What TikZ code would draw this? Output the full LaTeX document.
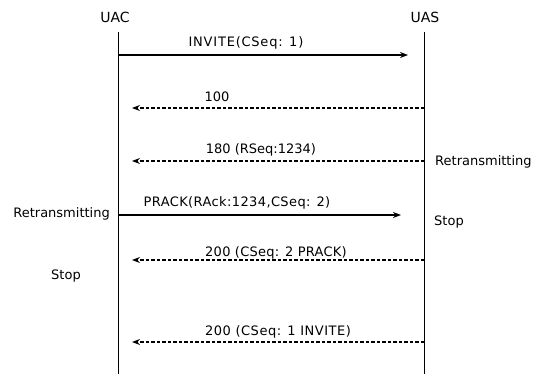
\documentclass[tikz,border=0pt]{standalone}
\usepackage{fontspec}
\setmainfont{DejaVu Sans}
\usetikzlibrary{arrows.meta}
\begin{document}
\begin{tikzpicture}[x=1pt,y=-1pt,
  lifeline/.style={line width=0.9pt},
  req/.style={line width=1.3pt,-{Stealth[length=8pt,width=6pt]}},
  resp/.style={line width=1.3pt,dash pattern=on 3.5pt off 2pt,-{Stealth[length=8pt,width=6pt]}},
  lbl/.style={font=\fontsize{13}{15}\selectfont,inner sep=0pt},
  head/.style={font=\fontsize{14}{16}\selectfont,inner sep=0pt}]
\useasboundingbox (0,0) rectangle (537,374);
\node[head] (uac) at (115,17) {UAC};
\node[head] (uas) at (425,17) {UAS};
\coordinate (uact) at (118,32);
\coordinate (uast) at (424,32);
\coordinate (uacb) at (118,374);
\coordinate (uasb) at (424,374);
\draw[lifeline] (uact) -- (uacb);
\draw[lifeline] (uast) -- (uasb);
% messages
\coordinate (a1) at (118,55); \coordinate (b1) at (408,55);
\draw[req] (a1) -- (b1);
\node[lbl] (m1) at (246,43) {\addfontfeature{LetterSpace=6}INVITE(CSeq: 1)};
\coordinate (a2) at (424,108); \coordinate (b2) at (132,108);
\draw[resp] (a2) -- (b2);
\node[lbl] (m2) at (217,97) {100};
\coordinate (a3) at (424,161); \coordinate (b3) at (132,161);
\draw[resp] (a3) -- (b3);
\node[lbl] (m3) at (261,150) {180 (RSeq:1234)};
\coordinate (a4) at (118,215); \coordinate (b4) at (401,215);
\draw[req] (a4) -- (b4);
\node[lbl] (m4) at (237,203) {\addfontfeature{LetterSpace=3}PRACK(RAck:1234,CSeq: 2)};
\coordinate (a5) at (424,260); \coordinate (b5) at (132,260);
\draw[resp] (a5) -- (b5);
\node[lbl] (m5) at (276,253) {\addfontfeature{LetterSpace=2}200 (CSeq: 2 PRACK)};
\coordinate (a6) at (424,342); \coordinate (b6) at (132,342);
\draw[resp] (a6) -- (b6);
\node[lbl] (m6) at (278,332) {\addfontfeature{LetterSpace=4}200 (CSeq: 1 INVITE)};
% side notes
\node[lbl,anchor=west] (r1) at (435,162) {Retransmitting};
\node[lbl,anchor=west] (s1) at (434,222) {Stop};
\node[lbl,anchor=east] (r2) at (110,214) {Retransmitting};
\node[lbl] (s2) at (66,276) {Stop};
\end{tikzpicture}
\end{document}
